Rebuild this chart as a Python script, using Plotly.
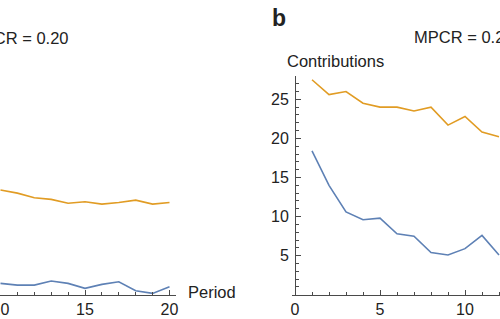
import plotly.graph_objects as go

# Panel a (only periods 10-20 visible)
periods_a = [10, 11, 12, 13, 14, 15, 16, 17, 18, 19, 20]
orange_a = [13.4, 13.0, 12.4, 12.2, 11.7, 11.9, 11.6, 11.8, 12.1, 11.6, 11.8]
blue_a = [1.46, 1.24, 1.24, 1.76, 1.46, 0.82, 1.33, 1.67, 0.51, 0.18, 1.03]

# Panel b (only periods 1-12 visible)
periods_b = [1, 2, 3, 4, 5, 6, 7, 8, 9, 10, 11, 12]
orange_b = [27.5, 25.6, 26.0, 24.5, 24.0, 24.0, 23.5, 24.0, 21.7, 22.8, 20.8, 20.2]
blue_b = [18.4, 14.0, 10.6, 9.6, 9.8, 7.8, 7.5, 5.4, 5.1, 5.9, 7.6, 5.1]

x_ticks_a = [10, 15, 20]
x_ticks_b = [0, 5, 10]
y_ticks = [5, 10, 15, 20, 25]

BLUE = "#5E81B5"
ORANGE = "#E19C24"
AX = "#4a4a4a"
FONT = "Liberation Sans, Arial, sans-serif"
W, H = 500, 319

fig = go.Figure()
fig.add_trace(go.Scatter(x=periods_a, y=orange_a, mode="lines", line=dict(color=ORANGE, width=1.6),
                         xaxis="x", yaxis="y", showlegend=False))
fig.add_trace(go.Scatter(x=periods_a, y=blue_a, mode="lines", line=dict(color=BLUE, width=1.6),
                         xaxis="x", yaxis="y", showlegend=False))
fig.add_trace(go.Scatter(x=periods_b, y=orange_b, mode="lines", line=dict(color=ORANGE, width=1.6),
                         xaxis="x2", yaxis="y2", showlegend=False))
fig.add_trace(go.Scatter(x=periods_b, y=blue_b, mode="lines", line=dict(color=BLUE, width=1.6),
                         xaxis="x2", yaxis="y2", showlegend=False))

y_bot = 294.8
y_top = 76.0
ydom = [(H - y_bot) / H, (H - y_top) / H]
yr = [0, (y_bot - y_top) / 7.82]

ax_common = dict(showgrid=False, zeroline=False, showline=True, linecolor=AX, linewidth=1,
                 ticks="inside", ticklen=5, tickcolor=AX, tickwidth=1,
                 ticklabeloverflow="allow", automargin=False,
                 tickfont=dict(family=FONT, size=16, color="#222"),
                 minor=dict(dtick=1, ticks="inside", ticklen=3, tickcolor=AX, tickwidth=1, showgrid=False))

ua = 16.9
ub = 17.0
fig.update_layout(
    width=W, height=H, margin=dict(l=0, r=0, t=0, b=0),
    paper_bgcolor="white", plot_bgcolor="white",
    xaxis=dict(domain=[0, 176 / W], range=[10 - 0.5 / ua, 10 + 175.5 / ua], anchor="y",
               tickvals=x_ticks_a, **ax_common),
    yaxis=dict(domain=ydom, range=yr, visible=False, anchor="x", automargin=False),
    xaxis2=dict(domain=[292 / W, 1], range=[-3 / ub, 205 / ub], anchor="y2",
                tickvals=x_ticks_b, **ax_common),
    yaxis2=dict(domain=ydom, range=yr, anchor="free", position=295 / W,
                tickvals=y_ticks, ticklabelstandoff=3, **ax_common),
)

def ann(text, x, y, xanchor, size=16.5, bold=False):
    fig.add_annotation(text=f"<b>{text}</b>" if bold else text, x=x / W, y=1 - y / H,
                       xref="paper", yref="paper", xanchor=xanchor, yanchor="middle",
                       showarrow=False, font=dict(family=FONT, size=size, color="#222"))

ann("MPCR = 0.20", 71, 37.5, "right")
ann("MPCR = 0.20", 412, 37.0, "left")
ann("b", 270, 17.5, "left", size=23, bold=True)
ann("Contributions", 285, 61, "left")
ann("Period", 186, 292, "left")

fig.write_html("out.html", config={"displayModeBar": False},
               post_script="document.body.style.margin='0';document.body.style.overflow='hidden';")
